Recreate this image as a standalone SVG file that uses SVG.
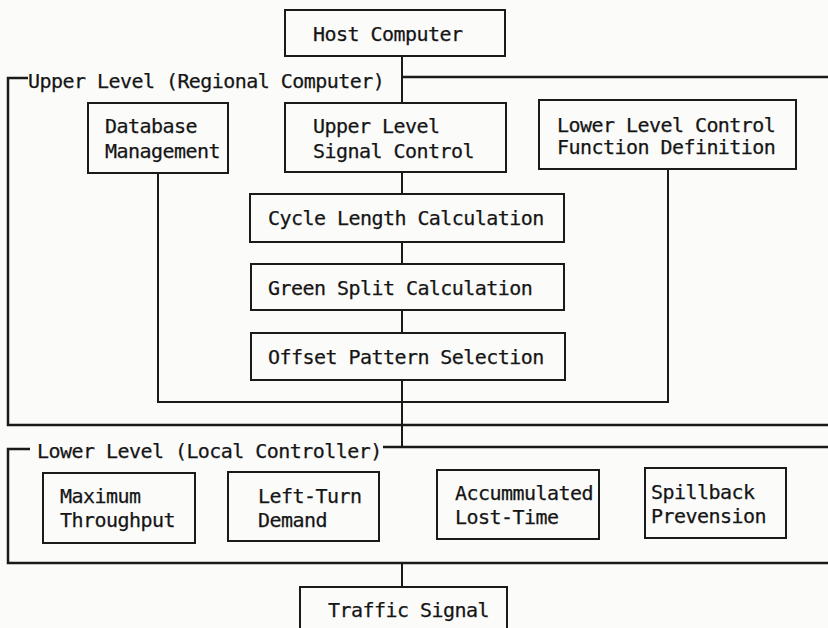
<svg xmlns="http://www.w3.org/2000/svg" width="828" height="628" viewBox="0 0 828 628">
<style>
.bg{fill:#fbfbfa}
.box{fill:none;stroke:#1a1a1a;stroke-width:2}
.frame{fill:none;stroke:#1a1a1a;stroke-width:2.5}
.ln{fill:none;stroke:#1a1a1a;stroke-width:2}
text{font-family:"DejaVu Sans Mono","Liberation Mono",monospace;font-size:20px;letter-spacing:-0.55px;fill:#151515;stroke:#151515;stroke-width:0.25}
</style>
<rect class="bg" x="0" y="0" width="828" height="628"/>
<g id="connectors">
<path class="ln" d="M402 56 V103"/>
<path class="ln" d="M402 172 V194 M402 242 V264 M402 310 V333 M402 380 V447"/>
<path class="ln" d="M158 173 V402 H668 V169"/>
<path class="ln" d="M402 563 V587"/>
</g>
<g id="upper-frame">
<path class="frame" d="M28 78 H8 V425 H828"/>
<path class="frame" d="M402 77 H828"/>
<text x="28" y="88">Upper Level (Regional Computer)</text>
</g>
<g id="lower-frame">
<path class="frame" d="M30 449 H8 V563 H828"/>
<path class="frame" d="M383 447 H828"/>
<text x="37" y="458">Lower Level (Local Controller)</text>
</g>
<g id="host"><rect class="box" x="285" y="10" width="220" height="46"/><text x="313" y="41">Host Computer</text></g>
<g id="db"><rect class="box" x="88" y="103" width="140" height="70"/><text x="105" y="133">Database</text><text x="105" y="158">Management</text></g>
<g id="upper-signal"><rect class="box" x="285" y="103" width="221" height="69"/><text x="313" y="133">Upper Level</text><text x="313" y="158">Signal Control</text></g>
<g id="lower-def"><rect class="box" x="539" y="100" width="257" height="69"/><text x="557" y="132">Lower Level Control</text><text x="557" y="154">Function Definition</text></g>
<g id="cycle"><rect class="box" x="250" y="194" width="314" height="48"/><text x="268" y="225">Cycle Length Calculation</text></g>
<g id="green"><rect class="box" x="251" y="264" width="313" height="46"/><text x="268" y="295">Green Split Calculation</text></g>
<g id="offset"><rect class="box" x="251" y="333" width="314" height="47"/><text x="268" y="364">Offset Pattern Selection</text></g>
<g id="maxthr"><rect class="box" x="43" y="473" width="152" height="70"/><text x="60" y="503">Maximum</text><text x="60" y="527">Throughput</text></g>
<g id="leftturn"><rect class="box" x="228" y="472" width="151" height="69"/><text x="258" y="503">Left-Turn</text><text x="258" y="527">Demand</text></g>
<g id="lost"><rect class="box" x="437" y="470" width="162" height="69"/><text x="455" y="500">Accummulated</text><text x="455" y="524">Lost-Time</text></g>
<g id="spill"><rect class="box" x="645" y="468" width="141" height="70"/><text x="651" y="499">Spillback</text><text x="651" y="523">Prevension</text></g>
<g id="traffic"><rect class="box" x="300" y="587" width="207" height="50"/><text x="328" y="617">Traffic Signal</text></g>
</svg>
